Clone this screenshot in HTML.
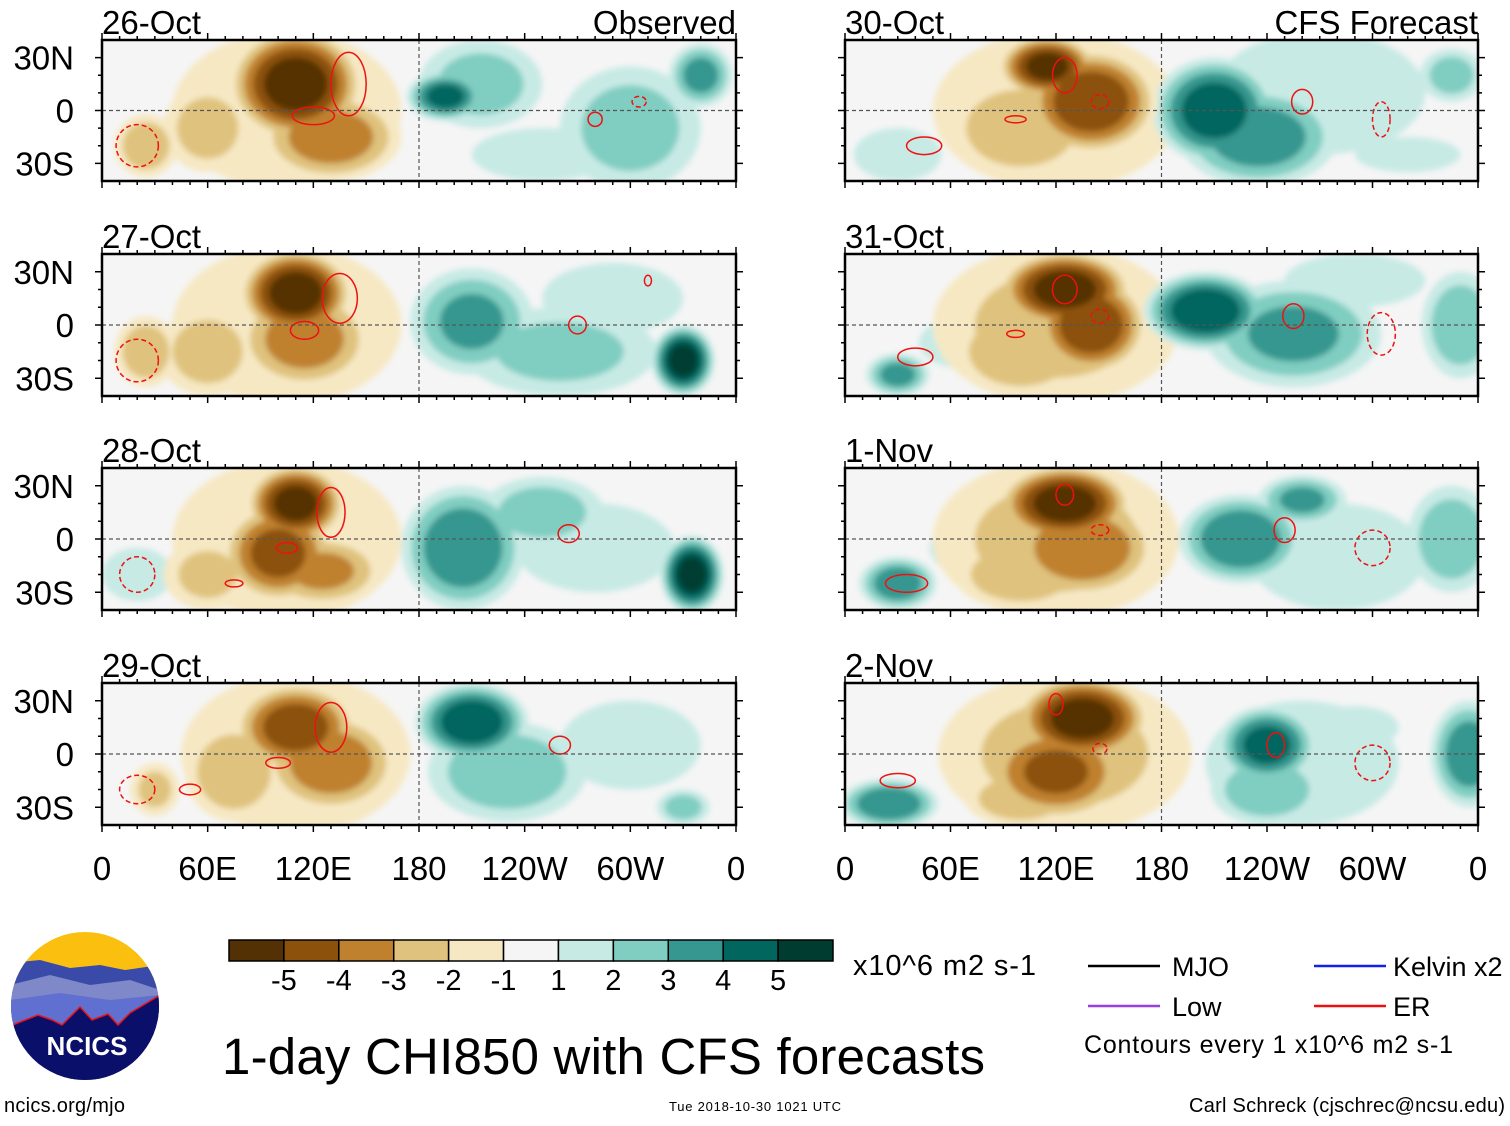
<!DOCTYPE html>
<html><head><meta charset="utf-8"><style>
body{margin:0;background:#fff;width:1510px;height:1121px;overflow:hidden}
text{font-family:"Liberation Sans",Arial,sans-serif}
</style></head><body>
<svg id="s" width="1510" height="1121" viewBox="0 0 1510 1121" xmlns="http://www.w3.org/2000/svg">
<defs><filter id="bl" x="-20%" y="-20%" width="140%" height="140%"><feGaussianBlur stdDeviation="3"/></filter></defs>
</svg>
<script>
// ---------- data ----------
const panelDates = ['26-Oct','27-Oct','28-Oct','29-Oct','30-Oct','31-Oct','1-Nov','2-Nov'];
const lonTicks = [0,60,120,180,240,300,360];
const lonTickLabels = ['0','60E','120E','180','120W','60W','0'];
const latTicks = [30,0,-30];
const latTickLabels = ['30N','0','30S'];
const levelLabels = ['-5','-4','-3','-2','-1','1','2','3','4','5'];
// blobs: [lon, lat, rxDeg, ryDeg, value]
const blobs0 = [[105,0,65,45,-1.6],[110,15,38,32,-5.6],[130,-15,40,25,-3.5],[60,-10,25,25,-2.2],[25,-20,18,18,-2.5],[195,8,22,14,4.3],[215,15,35,25,2.2],[300,-10,40,35,2.2],[340,20,18,18,3.2],[250,-25,40,15,1.6]];
const blobs1 = [[105,0,65,45,-1.8],[110,18,32,25,-5.6],[115,-8,38,28,-3.4],[60,-15,28,25,-2.3],[25,-15,18,20,-2.5],[210,2,35,30,3.0],[260,-15,55,25,2.0],[330,-20,18,20,5.6],[290,15,40,20,1.7]];
const blobs2 = [[105,0,65,45,-1.8],[110,20,28,22,-5.4],[100,-8,32,28,-4.3],[125,-18,35,20,-3.0],[60,-20,25,20,-2.0],[205,-5,35,35,3.8],[250,15,35,20,2.3],[335,-20,18,22,5.6],[280,-5,45,25,1.9],[20,-20,20,15,1.3]];
const blobs3 = [[110,0,65,45,-1.8],[110,15,35,25,-4.6],[130,-5,38,28,-3.6],[75,-10,28,28,-2.6],[30,-20,14,15,-2.0],[210,18,32,22,4.8],[230,-10,45,28,2.6],[300,5,40,25,1.6],[330,-30,15,10,2.2]];
const blobs4 = [[120,0,70,45,-1.8],[115,25,28,18,-5.3],[140,5,38,30,-4.9],[100,-10,40,28,-2.9],[210,0,35,30,4.6],[235,-15,45,28,3.5],[270,10,60,35,1.6],[345,20,18,15,2.2],[30,-25,25,15,1.3],[320,-25,30,10,1.5]];
const blobs5 = [[120,0,70,45,-2.0],[125,20,38,22,-5.6],[140,0,32,28,-4.9],[100,-15,38,25,-2.9],[205,8,35,22,4.9],[255,-5,50,30,3.0],[30,-28,18,12,3.2],[350,0,22,30,2.6],[70,-10,28,15,1.5],[290,25,40,15,1.5]];
const blobs6 = [[120,0,70,45,-2.0],[125,20,38,22,-5.6],[135,-5,42,28,-3.9],[100,-20,38,20,-2.6],[225,0,35,25,3.9],[260,22,25,14,3.0],[30,-25,22,15,3.6],[345,0,25,30,2.6],[70,-5,22,15,1.5],[280,-10,50,30,1.5]];
const blobs7 = [[125,0,72,45,-2.0],[135,20,38,24,-5.6],[120,-10,42,28,-4.0],[100,-25,32,16,-2.6],[240,5,28,22,4.3],[240,-20,32,20,2.6],[25,-28,28,14,3.9],[355,0,22,30,3.6],[290,15,25,12,1.6],[260,-5,55,35,1.4]];
const allBlobs = [blobs0,blobs1,blobs2,blobs3,blobs4,blobs5,blobs6,blobs7];
// ER contours: [lon, lat, rxDeg, ryDeg, dashed(1)]
const er0 = [[140,15,10,18,0],[120,-3,12,5,0],[20,-20,12,12,1],[280,-5,4,4,0],[305,5,4,3,1]];
const er1 = [[135,15,10,14,0],[115,-3,8,5,0],[20,-20,12,12,1],[270,0,5,5,0],[310,25,2,3,0]];
const er2 = [[130,15,8,14,0],[105,-5,6,3,0],[75,-25,5,2,0],[265,3,6,5,0],[20,-20,10,10,1]];
const er3 = [[130,15,9,14,0],[100,-5,7,3,0],[50,-20,6,3,0],[260,5,6,5,0],[20,-20,10,8,1]];
const er4 = [[125,20,7,10,0],[145,5,5,4,1],[97,-5,6,2,0],[260,5,6,7,0],[305,-5,5,10,1],[45,-20,10,5,0]];
const er5 = [[125,20,7,8,0],[145,5,5,4,1],[97,-5,5,2,0],[255,5,6,7,0],[305,-5,8,12,1],[40,-18,10,5,0]];
const er6 = [[125,25,5,6,0],[145,5,5,3,1],[250,5,6,7,0],[300,-5,10,10,1],[35,-25,12,5,0]];
const er7 = [[120,28,4,6,0],[145,3,4,3,1],[245,5,5,7,0],[300,-5,10,10,1],[30,-15,10,4,0]];
const allER = [er0,er1,er2,er3,er4,er5,er6,er7];
// ---------- layout ----------
const negCol=['#f6e8c3','#dfc27d','#bf812d','#8c510a','#543005'];
const posCol=['#c7eae5','#80cdc1','#35978f','#01665e','#003c30'];
const rows=[[40,181],[254,396],[468,610],[683,825]];
const cols=[[102,736],[845,1478]];
const NS='http://www.w3.org/2000/svg';
const svg=document.getElementById('s');
function mk(tag,attrs,parent){const e=document.createElementNS(NS,tag);for(const k in attrs)e.setAttribute(k,attrs[k]);(parent||svg).appendChild(e);return e;}
function txt(x,y,s,size,anchor,parent){const t=mk('text',{x:x,y:y,'font-size':size,'text-anchor':anchor||'start',fill:'#000'},parent);t.textContent=s;return t;}
for(let p=0;p<8;p++){
  const c=cols[Math.floor(p/4)], r=rows[p%4];
  const x0=c[0],x1=c[1],y0=r[0],y1=r[1];
  const xs=lon=>x0+(lon/360)*(x1-x0);
  const yc=(y0+y1)/2, ppd=(y1-y0)/80;
  const ys=lat=>yc-lat*ppd;
  const g=mk('g',{});
  
  
  const cp=mk('clipPath',{id:'cp'+p},svg.querySelector('defs'));
  mk('rect',{x:x0,y:y0,width:x1-x0,height:y1-y0},cp);
  mk('rect',{x:x0,y:y0,width:x1-x0,height:y1-y0,fill:'#f5f5f5'},g);
  const fg=mk('g',{'clip-path':'url(#cp'+p+')'},g);
  const bg=mk('g',{filter:'url(#bl)'},fg);
  const bl=allBlobs[p].slice().sort((a,b)=>Math.abs(a[4])-Math.abs(b[4]));
  for(let k=1;k<=5;k++){
    bl.forEach(b=>{
      const v=Math.abs(b[4]); if(v<k) return;
      const sc=Math.pow(1-(k-1)/v,0.6);
      const e=mk('ellipse',{cx:xs(b[0]),cy:ys(b[1]),rx:b[2]*sc*(x1-x0)/360,ry:b[3]*sc*ppd,fill:(b[4]<0?negCol:posCol)[k-1]},bg);
      
      
    });
  }
  allER[p].forEach(e=>{
    const el=mk('ellipse',{cx:xs(e[0]),cy:ys(e[1]),rx:e[2]*(x1-x0)/360,ry:e[3]*ppd,fill:'none',stroke:'#ee1111','stroke-width':1.5,'stroke-dasharray':e[4]?'5,3':'none'},fg);
    
    
  });
  mk('line',{x1:x0,x2:x1,y1:ys(0),y2:ys(0),stroke:'#555','stroke-dasharray':'4,3','stroke-width':1.2},g);
  mk('line',{x1:xs(180),x2:xs(180),y1:y0,y2:y1,stroke:'#555','stroke-dasharray':'4,3','stroke-width':1.2},g);
  mk('rect',{x:x0,y:y0,width:x1-x0,height:y1-y0,fill:'none',stroke:'#000','stroke-width':2.5},g);
  for(let lon=0;lon<=360;lon+=10){
    const L=lon%60===0?7:4;
    mk('line',{x1:xs(lon),x2:xs(lon),y1:y1,y2:y1+L,stroke:'#000','stroke-width':1.5},g);
    mk('line',{x1:xs(lon),x2:xs(lon),y1:y0,y2:y0-L,stroke:'#000','stroke-width':1.5},g);
  }
  for(let lat=-30;lat<=30;lat+=10){const L=lat%30===0?7:4;
    mk('line',{x1:x0-L,x2:x0,y1:ys(lat),y2:ys(lat),stroke:'#000','stroke-width':1.5},g);
    mk('line',{x1:x1,x2:x1+L,y1:ys(lat),y2:ys(lat),stroke:'#000','stroke-width':1.5},g);}
  const dt=txt(x0,y0-6,panelDates[p],33,'start',g);
  
  if(p===0){const t=txt(x1,y0-6,'Observed',33,'end',g);}
  if(p===4){const t=txt(x1,y0-6,'CFS Forecast',33,'end',g);}
  if(p<4) latTicks.forEach((lat,i)=>{const t=txt(74,ys(lat)+12,latTickLabels[i],33,'end',g);});
  if(p%4===3) lonTicks.forEach((lon,i)=>{const t=txt(xs(lon),880,lonTickLabels[i],33,'middle',g);});
}
// colorbar
const cb=mk('g',{});
const allCols=negCol.slice().reverse().concat(['#f5f5f5']).concat(posCol);
const bw=(833-229)/11;
allCols.forEach((c,i)=>mk('rect',{x:229+i*bw,y:940,width:bw,height:21,fill:c,stroke:'#000','stroke-width':1.5},cb));
levelLabels.forEach((l,i)=>txt(229+(i+1)*bw,990,l,29,'middle',cb));
txt(853,975,'x10^6 m2 s-1',29,'start',cb).setAttribute('textLength','183');
const ti=txt(222,1074,'1-day CHI850 with CFS forecasts',51,'start');ti.setAttribute('textLength','763');
// legend
const lg=mk('g',{});
[[1088,966,'#000','MJO',1172],[1088,1006,'#9b40e0','Low',1172],[1314,966,'#1020ee','Kelvin x2',1393],[1314,1006,'#ee1111','ER',1393]].forEach(a=>{
  mk('line',{x1:a[0],x2:a[0]+72,y1:a[1],y2:a[1],stroke:a[2],'stroke-width':2.5},lg);txt(a[4],a[1]+10,a[3],27,'start',lg);});
txt(1084,1053,'Contours every 1 x10^6 m2 s-1',25,'start',lg).setAttribute('textLength','369');
txt(4,1112,'ncics.org/mjo',20,'start').setAttribute('textLength','121');
txt(755,1111,'Tue 2018-10-30 1021 UTC',13,'middle').setAttribute('textLength','172');
txt(1505,1112,'Carl Schreck (cjschrec@ncsu.edu)',20,'end').setAttribute('textLength','316');
// logo
const lo=mk('g',{});
const lcp=mk('clipPath',{id:'lcp'},svg.querySelector('defs'));mk('circle',{cx:85,cy:1006,r:74},lcp);
const li=mk('g',{'clip-path':'url(#lcp)'},lo);
mk('rect',{x:10,y:930,width:150,height:160,fill:'#fbbf10'},li);
mk('path',{d:'M10 963 L40 960 L70 968 L100 965 L125 970 L160 965 L160 1090 L10 1090Z',fill:'#3a4aa8'},li);
mk('path',{d:'M10 985 L50 975 L90 985 L130 980 L160 990 L160 1090 L10 1090Z',fill:'#7f88c8'},li);
mk('path',{d:'M10 1000 L60 993 L110 1000 L160 995 L160 1090 L10 1090Z',fill:'#6070d0'},li);
mk('path',{d:'M10 1026 L38 1015 L52 1020 L62 1025 L80 1007 L92 1020 L108 1014 L118 1025 L130 1013 L160 995 L160 1090 L10 1090Z',fill:'#0a0f6a',stroke:'#e11','stroke-width':1.5},li);
const nt=txt(87,1055,'NCICS',26,'middle',lo);nt.setAttribute('fill','#fff');nt.setAttribute('font-weight','bold');
</script>
</body></html>
